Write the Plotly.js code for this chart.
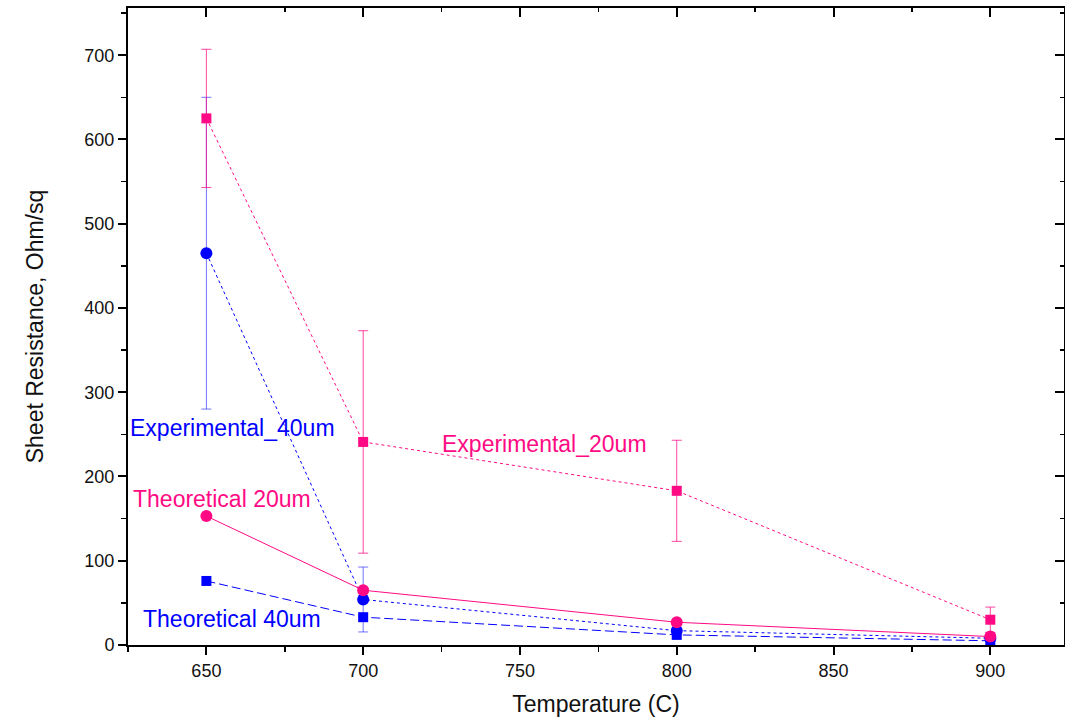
<!DOCTYPE html>
<html>
<head>
<meta charset="utf-8">
<script src="https://cdn.plot.ly/plotly-3.0.1.min.js"></script>
<style>html,body{margin:0;padding:0;background:#fff;}#chart{width:1065px;height:726px;}</style>
</head>
<body>
<div id="chart"></div>
<script>
// Data
const temperature = [650, 700, 800, 900];

const exp20 = [625, 241, 183, 30];
const exp20Err = [82, 132, 60, 15];

const exp40 = [465, 54, 17, 8];
const exp40Err = [185, 38.5, 3, 2];

const theo20 = [153, 65, 27, 10];
const theo40 = [76, 33, 12, 5];

const labels = {
  exp40: "Experimental_40um",
  exp20: "Experimental_20um",
  theo20: "Theoretical 20um",
  theo40: "Theoretical 40um"
};

const PINK = "#ff0a84";
const BLUE = "#0000ff";
const FONT = "Arial, 'Liberation Sans', sans-serif";

const traces = [
  {
    x: temperature, y: exp40, type: "scatter", mode: "lines+markers", name: labels.exp40,
    line: {color: BLUE, width: 1, dash: "3px,3px"},
    marker: {symbol: "circle", size: 12, color: BLUE},
    error_y: {type: "data", array: exp40Err, visible: true, color: "rgba(40,40,255,0.65)", thickness: 1, width: 5}
  },
  {
    x: temperature, y: exp20, type: "scatter", mode: "lines+markers", name: labels.exp20,
    line: {color: PINK, width: 1, dash: "3px,3px"},
    marker: {symbol: "square", size: 10, color: PINK},
    error_y: {type: "data", array: exp20Err, visible: true, color: "rgba(255,10,132,0.75)", thickness: 1, width: 5}
  },
  {
    x: temperature, y: theo40, type: "scatter", mode: "lines+markers", name: labels.theo40,
    line: {color: BLUE, width: 1, dash: "9px,4px"},
    marker: {symbol: "square", size: 10, color: BLUE}
  },
  {
    x: temperature, y: theo20, type: "scatter", mode: "lines+markers", name: labels.theo20,
    line: {color: PINK, width: 1},
    marker: {symbol: "circle", size: 12, color: PINK}
  },
  {
    x: [null], y: [null], xaxis: "x2", yaxis: "y2", type: "scatter", mode: "markers",
    showlegend: false, hoverinfo: "skip"
  }
];

const xr = [625, 923.5];
const yr = [0, 756];

const layout = {
  width: 1065, height: 726,
  margin: {l: 128, r: 1, t: 8, b: 81},
  paper_bgcolor: "#ffffff", plot_bgcolor: "#ffffff",
  showlegend: false,
  font: {family: FONT, color: "#000"},
  xaxis: {
    range: xr, dtick: 50, tick0: 650, ticks: "outside", ticklen: 8, tickwidth: 2, tickcolor: "#000",
    showline: true, linewidth: 2, linecolor: "#000", showgrid: false, zeroline: false,
    tickfont: {family: FONT, size: 18, color: "#111"},
    minor: {dtick: 25, tick0: 650, ticks: "outside", ticklen: 5, tickwidth: 1.5, tickcolor: "#000", showgrid: false},
    title: {text: "Temperature (C)", font: {family: FONT, size: 23, color: "#111"}, standoff: 16}
  },
  yaxis: {
    range: yr, dtick: 100, ticks: "outside", ticklen: 8, tickwidth: 2, tickcolor: "#000",
    showline: true, linewidth: 2, linecolor: "#000", showgrid: false, zeroline: false,
    tickfont: {family: FONT, size: 18, color: "#111"},
    minor: {dtick: 50, ticks: "outside", ticklen: 5, tickwidth: 1.5, tickcolor: "#000", showgrid: false},
    title: {text: "Sheet Resistance, Ohm/sq", font: {family: FONT, size: 23, color: "#111"}, standoff: 34}
  },
  xaxis2: {
    overlaying: "x", side: "top", anchor: "y2", range: xr, dtick: 50, tick0: 650,
    ticks: "inside", ticklen: 9, tickwidth: 2, tickcolor: "#000", showticklabels: false,
    showline: true, linewidth: 2, linecolor: "#000", showgrid: false, zeroline: false,
    minor: {dtick: 25, tick0: 650, ticks: "inside", ticklen: 4, tickwidth: 1.5, tickcolor: "#000", showgrid: false}
  },
  yaxis2: {
    overlaying: "y", side: "right", anchor: "x2", range: yr, dtick: 100,
    ticks: "inside", ticklen: 9, tickwidth: 2, tickcolor: "#000", showticklabels: false,
    showline: true, linewidth: 2, linecolor: "#000", showgrid: false, zeroline: false,
    minor: {dtick: 50, ticks: "inside", ticklen: 4, tickwidth: 1.5, tickcolor: "#000", showgrid: false}
  },
  annotations: [
    {x: 658.3, y: 257.5, xref: "x", yref: "y", text: labels.exp40, showarrow: false,
     font: {family: FONT, size: 23, color: BLUE}, xanchor: "center", yanchor: "middle"},
    {x: 655.1, y: 173, xref: "x", yref: "y", text: labels.theo20, showarrow: false,
     font: {family: FONT, size: 23, color: PINK}, xanchor: "center", yanchor: "middle"},
    {x: 658.3, y: 31, xref: "x", yref: "y", text: labels.theo40, showarrow: false,
     font: {family: FONT, size: 23, color: BLUE}, xanchor: "center", yanchor: "middle"},
    {x: 757.8, y: 238.5, xref: "x", yref: "y", text: labels.exp20, showarrow: false,
     font: {family: FONT, size: 23, color: PINK}, xanchor: "center", yanchor: "middle"}
  ]
};

Plotly.newPlot("chart", traces, layout, {displayModeBar: false, staticPlot: true});
</script>
</body>
</html>
